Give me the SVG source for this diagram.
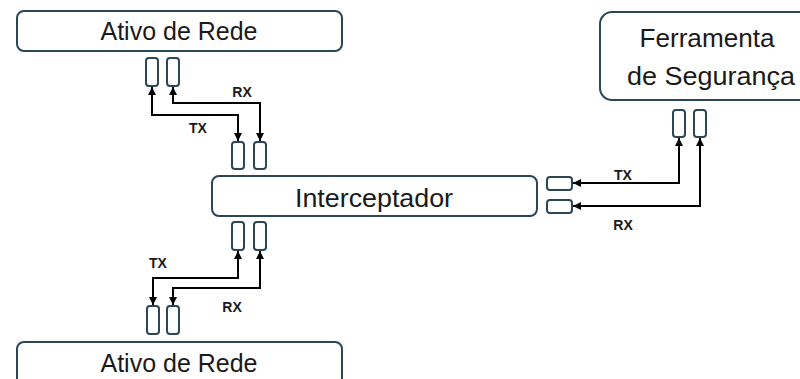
<svg xmlns="http://www.w3.org/2000/svg" width="800" height="379" viewBox="0 0 800 379">
  <style>
    .box { fill: #ffffff; stroke: #2b4657; stroke-width: 2; }
    .port { fill: #ffffff; stroke: #2b4657; stroke-width: 2; }
    .name { font-family: "Liberation Sans", Arial, sans-serif; font-size: 26px; fill: #1a1a1a; text-anchor: middle; }
    .lbl { font-family: "Liberation Sans", Arial, sans-serif; font-size: 14px; font-weight: bold; fill: #1a1a1a; text-anchor: middle; }
    .wire { fill: none; stroke: #000000; stroke-width: 2; marker-start: url(#head); marker-end: url(#head); }
  </style>
  <defs>
    <marker id="head" markerUnits="userSpaceOnUse" markerWidth="9" markerHeight="8" refX="8" refY="4" orient="auto-start-reverse">
      <path d="M0,0 L8,4 L0,8 z" fill="#000000"/>
    </marker>
  </defs>
  <rect width="800" height="379" fill="#ffffff"/>

  <!-- upper network asset -->
  <g id="ativo-topo">
    <rect class="box" x="17" y="11" width="325" height="40" rx="7"/>
    <text class="name" x="179" y="40" textLength="157" lengthAdjust="spacingAndGlyphs">Ativo de Rede</text>
    <rect class="port" x="146" y="58" width="12" height="28" rx="3"/>
    <rect class="port" x="167" y="58" width="12" height="28" rx="3"/>
  </g>

  <!-- interceptor in the middle -->
  <g id="interceptador">
    <rect class="box" x="212" y="176" width="325" height="40" rx="7"/>
    <text class="name" x="374" y="207" textLength="158" lengthAdjust="spacingAndGlyphs">Interceptador</text>
    <rect class="port" x="232" y="142" width="12" height="27" rx="3"/>
    <rect class="port" x="254" y="142" width="12" height="27" rx="3"/>
    <rect class="port" x="232" y="222" width="12" height="28" rx="3"/>
    <rect class="port" x="254" y="222" width="12" height="28" rx="3"/>
    <rect class="port" x="547" y="177" width="25" height="13" rx="3"/>
    <rect class="port" x="547" y="200" width="25" height="13" rx="3"/>
  </g>

  <!-- security tool -->
  <g id="ferramenta">
    <rect class="box" x="600" y="12" width="220" height="88" rx="12"/>
    <text class="name" x="707" y="47" textLength="135" lengthAdjust="spacingAndGlyphs">Ferramenta</text>
    <text class="name" x="711" y="85" textLength="168" lengthAdjust="spacingAndGlyphs">de Segurança</text>
    <rect class="port" x="673" y="110" width="12" height="27" rx="3"/>
    <rect class="port" x="694" y="110" width="12" height="27" rx="3"/>
  </g>

  <!-- lower network asset -->
  <g id="ativo-base">
    <rect class="box" x="17" y="342" width="325" height="48" rx="7"/>
    <text class="name" x="179" y="372" textLength="157" lengthAdjust="spacingAndGlyphs">Ativo de Rede</text>
    <rect class="port" x="147" y="306" width="12" height="28" rx="3"/>
    <rect class="port" x="167" y="306" width="12" height="28" rx="3"/>
  </g>

  <!-- TX / RX links -->
  <g id="conexoes">
    <path class="wire" d="M152,87 V115 H238 V141"/>
    <path class="wire" d="M173,87 V103 H260 V141"/>
    <path class="wire" d="M238,251 V278 H153 V305"/>
    <path class="wire" d="M260,251 V288 H173 V305"/>
    <path class="wire" d="M679,138 V183 H573"/>
    <path class="wire" d="M700,138 V206 H573"/>
    <text class="lbl" x="242" y="97">RX</text>
    <text class="lbl" x="198" y="133">TX</text>
    <text class="lbl" x="158" y="268">TX</text>
    <text class="lbl" x="232" y="312">RX</text>
    <text class="lbl" x="623" y="180">TX</text>
    <text class="lbl" x="623" y="230">RX</text>
  </g>
</svg>
